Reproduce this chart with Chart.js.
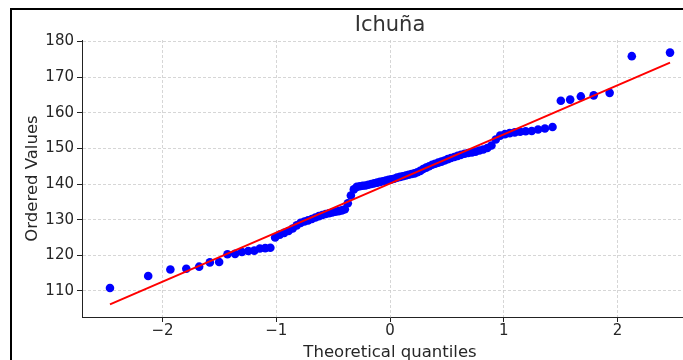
<!DOCTYPE html>
<html><head><meta charset="utf-8">
<script src="https://cdn.jsdelivr.net/npm/chart.js@4.4.0/dist/chart.umd.min.js"></script>
<style>
html,body{margin:0;padding:0;background:#fff;overflow:hidden;width:683px;height:360px;}
#wrap{position:relative;width:683px;height:360px;overflow:hidden;background:#fff;}
#c{position:absolute;left:0;top:0;width:720px;height:380px;}
#frame{position:absolute;left:10px;top:8px;width:800px;height:500px;border-left:2px solid #000;border-top:2px solid #000;pointer-events:none;}
</style></head>
<body><div id="wrap"><canvas id="c" width="720" height="380"></canvas><div id="frame"></div></div>
<script>
const chartTitle = 'Ichuña';
const xLabel = 'Theoretical quantiles';
const yLabel = 'Ordered Values';

const quantiles = [
 -2.462,-2.126,-1.931,-1.791,-1.678,-1.584,-1.502,-1.429,-1.362,-1.302,
 -1.246,-1.193,-1.144,-1.097,-1.052,-1.010,-0.969,-0.930,-0.892,-0.856,
 -0.820,-0.786,-0.752,-0.720,-0.687,-0.656,-0.625,-0.595,-0.566,-0.536,
 -0.508,-0.480,-0.452,-0.424,-0.397,-0.371,-0.344,-0.318,-0.292,-0.266,
 -0.240,-0.215,-0.190,-0.164,-0.139,-0.113,-0.088,-0.062,-0.037,-0.012,
 0.012,0.037,0.062,0.088,0.113,0.139,0.164,0.190,0.215,0.240,
 0.266,0.292,0.318,0.344,0.371,0.397,0.424,0.452,0.480,0.508,
 0.536,0.566,0.595,0.625,0.656,0.687,0.720,0.752,0.786,0.820,
 0.856,0.892,0.930,0.969,1.010,1.052,1.097,1.144,1.193,1.246,
 1.302,1.362,1.429,1.502,1.584,1.678,1.791,1.931,2.126,2.462
];

const orderedValues = [
 110.8,114.2,116.0,116.2,116.8,118.0,118.1,120.3,120.4,120.9,
 121.2,121.3,121.9,122.0,122.1,125.0,125.8,126.3,126.8,127.5,
 128.4,129.1,129.5,129.8,130.2,130.6,131.0,131.3,131.6,131.8,
 132.0,132.2,132.4,132.6,132.9,134.6,136.8,138.5,139.2,139.4,
 139.5,139.6,139.8,140.0,140.2,140.4,140.6,140.8,141.0,141.2,
 141.3,141.5,141.8,142.0,142.2,142.4,142.6,142.8,143.0,143.3,
 143.7,144.2,144.6,145.0,145.4,145.7,146.0,146.3,146.6,147.0,
 147.3,147.6,147.9,148.2,148.5,148.7,148.9,149.1,149.4,149.7,
 150.1,150.8,152.5,153.6,154.0,154.3,154.5,154.7,154.8,154.9,
 155.3,155.6,156.0,163.4,163.7,164.6,164.9,165.6,175.9,176.9
];

const fitQuantiles = [-2.462, 2.462];
const fitValues = [106.2, 174.1];

const xTickValues = [-2, -1, 0, 1, 2];
const yTickValues = [110, 120, 130, 140, 150, 160, 170, 180];
const xRange = [-2.708, 2.708];
const yRange = [102.67, 180.44];

const FONT = 'DejaVu Sans';
const TXT = '#262626';
const GRID = '#cccccc';
const AXIS = '#222222';

const fmt = v => v < 0 ? '\u2212' + Math.abs(v) : String(v);

new Chart(document.getElementById('c'), {
  type: 'scatter',
  data: {
    datasets: [
      {
        label: 'fit',
        data: fitQuantiles.map((q, i) => ({x: q, y: fitValues[i]})),
        showLine: true,
        borderColor: '#ff0000',
        borderWidth: 2,
        pointRadius: 0,
        fill: false,
        order: 1
      },
      {
        label: 'values',
        data: quantiles.map((q, i) => ({x: q, y: orderedValues[i]})),
        backgroundColor: '#0000ff',
        borderWidth: 0,
        pointRadius: 4.3,
        order: 2
      }
    ]
  },
  options: {
    responsive: false,
    animation: false,
    layout: {padding: {left: 0, right: 22, top: 0, bottom: 0}},
    plugins: {legend: {display: false}, tooltip: {enabled: false}, title: {display: false}},
    scales: {
      x: {
        type: 'linear', position: 'bottom',
        min: xRange[0], max: xRange[1],
        afterBuildTicks: s => { s.ticks = xTickValues.map(v => ({value: v})); },
        afterFit: s => { s.height = 63; },
        ticks: {callback: v => fmt(v), font: {family: FONT, size: 15}, color: TXT, padding: 0, autoSkip: false, maxRotation: 0},
        grid: {color: GRID, lineWidth: 0.8, drawTicks: true, tickLength: 5, tickColor: AXIS, tickWidth: 1, tickBorderDash: []},
        border: {display: true, color: AXIS, width: 1, dash: [3, 2]},
        title: {display: true, text: xLabel, color: TXT, font: {family: FONT, size: 16.5}, padding: {top: 0, bottom: 17.6}}
      },
      x2: {
        type: 'linear', position: 'top',
        min: xRange[0], max: xRange[1],
        afterFit: s => { s.height = 40; },
        ticks: {display: false},
        grid: {display: false, drawTicks: false},
        border: {display: false},
        title: {display: true, text: chartTitle, color: '#333333', font: {family: FONT, size: 21}, padding: {top: 13, bottom: 0}}
      },
      y: {
        type: 'linear', position: 'left',
        min: yRange[0], max: yRange[1],
        afterBuildTicks: s => { s.ticks = yTickValues.map(v => ({value: v})); },
        afterFit: s => { s.width = 82; },
        ticks: {callback: v => String(v), font: {family: FONT, size: 15}, color: TXT, padding: 3, autoSkip: false},
        grid: {color: GRID, lineWidth: 0.8, drawTicks: true, tickLength: 5, tickColor: AXIS, tickWidth: 1, tickBorderDash: []},
        border: {display: true, color: AXIS, width: 1, dash: [3, 2]},
        title: {display: true, text: yLabel, color: TXT, font: {family: FONT, size: 16.5}, padding: {top: 23, bottom: 0}}
      }
    }
  }
});
</script>
</body></html>
